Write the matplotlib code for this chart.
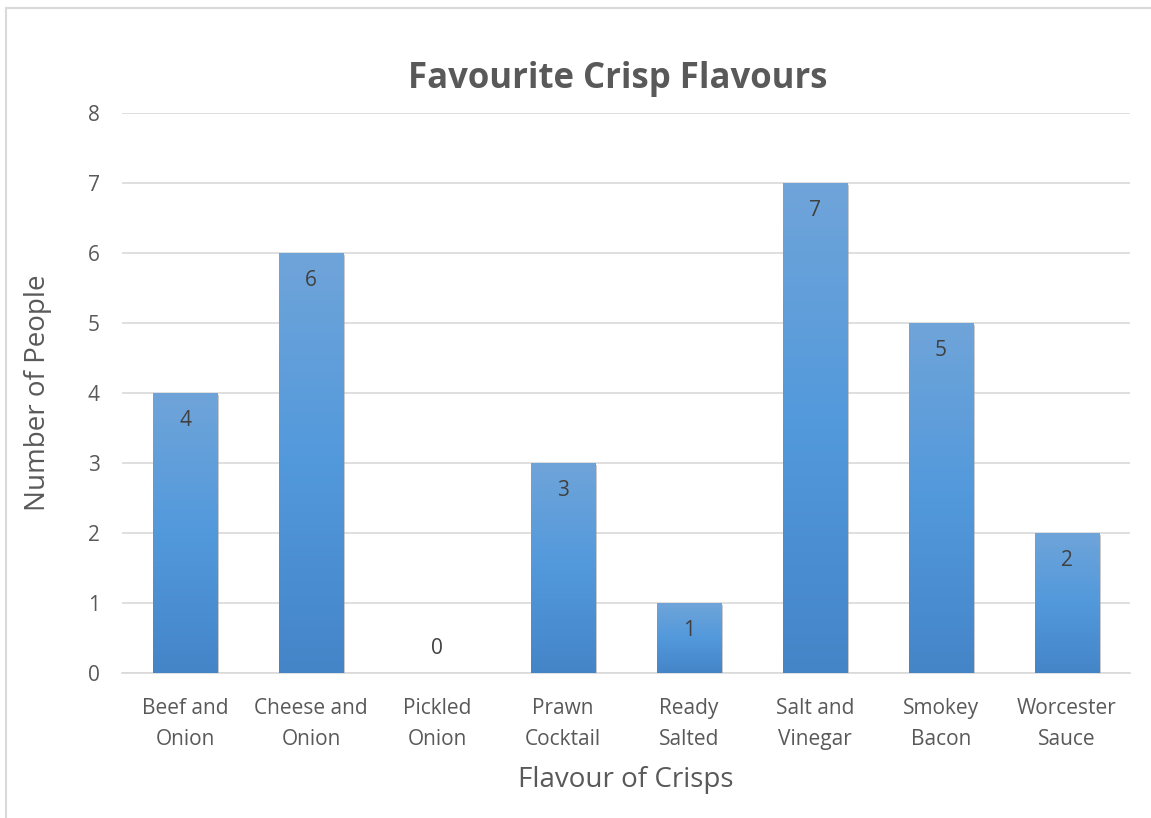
import matplotlib.pyplot as plt
import matplotlib.patheffects as pe
import numpy as np
from matplotlib.colors import LinearSegmentedColormap

flavours = ["Beef and\nOnion", "Cheese and\nOnion", "Pickled\nOnion", "Prawn\nCocktail",
            "Ready\nSalted", "Salt and\nVinegar", "Smokey\nBacon", "Worcester\nSauce"]
people = [4, 6, 0, 3, 1, 7, 5, 2]
y_ticks = [0, 1, 2, 3, 4, 5, 6, 7, 8]

plt.rcParams['font.family'] = ['Open Sans', 'DejaVu Sans']
grey = "#595959"

fig = plt.figure(figsize=(11.51, 8.18), dpi=100)
ax = fig.add_axes([122 / 1151, 1 - 673 / 818, (1130 - 122) / 1151, (673 - 113) / 818])

# chart border
fig.patches.append(plt.Rectangle((6 / 1151, -0.1), 1.2, 1 - 8 / 818 + 0.1,
                                 transform=fig.transFigure, fill=False,
                                 edgecolor="#d9d9d9", linewidth=1.5))

x = np.arange(len(flavours))
bars = ax.bar(x, people, width=0.51, color="#5b9bd5", zorder=3,
              path_effects=[pe.SimplePatchShadow(offset=(1.5, -1.5), shadow_rgbFace="#999999", alpha=0.5),
                            pe.Normal()])

grad = LinearSegmentedColormap.from_list("bar", ["#4485c8", "#5299dc", "#6fa4d9"])
for b in bars:
    h = b.get_height()
    if h == 0:
        continue
    x0 = b.get_x()
    img = ax.imshow(np.linspace(0, 1, 100).reshape(-1, 1), cmap=grad, origin="lower",
                    extent=[x0, x0 + b.get_width(), 0, h], aspect="auto", zorder=4)
    img.set_clip_path(b)

for xi, v in zip(x, people):
    ax.text(xi, v - 0.4 if v > 0 else 0.35, str(v), ha="center", va="center",
            fontsize=15, color="#404040", zorder=5)

ax.set_xlim(-0.5, len(flavours) - 0.5)
ax.set_ylim(0, 8)
ax.set_yticks(y_ticks)
ax.set_xticks(x)
ax.set_xticklabels(flavours, fontsize=15, color=grey, linespacing=1.6)
ax.tick_params(axis="y", labelsize=15, labelcolor=grey, length=0, pad=16)
ax.tick_params(axis="x", length=0, pad=18)
ax.yaxis.grid(True, color="#d9d9d9", linewidth=1.2, zorder=0)
ax.set_axisbelow(True)
for s in ["top", "right", "left"]:
    ax.spines[s].set_visible(False)
ax.spines["bottom"].set_color("#d9d9d9")
ax.spines["bottom"].set_linewidth(1.2)

ax.set_title("Favourite Crisp Flavours", fontsize=25, fontweight="bold", color=grey, pad=18,
             x=0.492)
ax.set_ylabel("Number of People", fontsize=20, color=grey, labelpad=26)
ax.set_xlabel("Flavour of Crisps", fontsize=20, color=grey, labelpad=12)

fig.savefig("out.png", dpi=100)
